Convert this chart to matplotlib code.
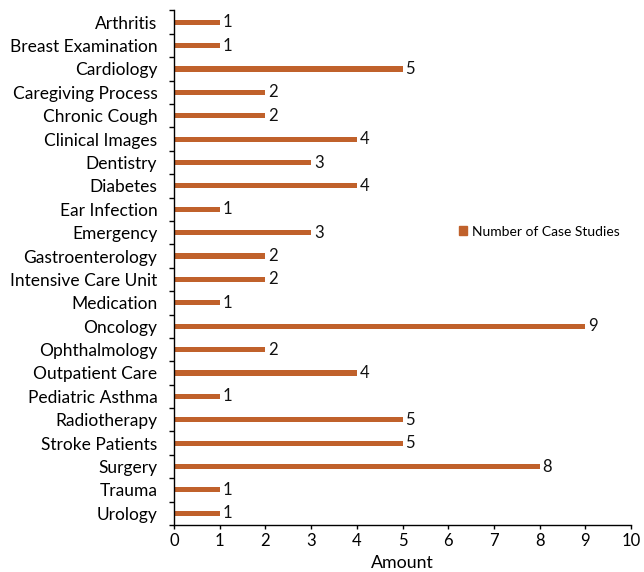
import matplotlib
matplotlib.use("Agg")
import matplotlib.pyplot as plt
from matplotlib.patches import Patch
import numpy as np

categories = ["Arthritis", "Breast Examination", "Cardiology", "Caregiving Process",
              "Chronic Cough", "Clinical Images", "Dentistry", "Diabetes", "Ear Infection",
              "Emergency", "Gastroenterology", "Intensive Care Unit", "Medication", "Oncology",
              "Ophthalmology", "Outpatient Care", "Pediatric Asthma", "Radiotherapy",
              "Stroke Patients", "Surgery", "Trauma", "Urology"]
values = [1, 1, 5, 2, 2, 4, 3, 4, 1, 3, 2, 2, 1, 9, 2, 4, 1, 5, 5, 8, 1, 1]
series_name = "Number of Case Studies"
xlabel = "Amount"

plt.rcParams['font.family'] = ['Lato', 'DejaVu Sans']
color = "#C0612B"

fig = plt.figure(figsize=(6.44, 5.72), dpi=100)
ax = fig.add_axes([174/644, 1-525/572, (631-174)/644, (525-10.5)/572])

n = len(categories)
y = np.arange(n)
ax.barh(y, values, height=0.22, color=color)
for yi, v in zip(y, values):
    ax.text(v + 0.06, yi, str(v), va='center', ha='left', fontsize=12, color='#111111')

ax.set_ylim(n - 0.5, -0.5)
ax.set_xlim(0, 10)
ax.set_xticks(range(0, 11))
ax.tick_params(axis='x', labelsize=12, length=3, width=1, colors='black', pad=3)
ax.set_yticks(y)
ax.set_yticklabels(categories, fontsize=12.5)
ax.tick_params(axis='y', which='major', length=0, pad=12)
ax.set_yticks(np.arange(-0.5, n, 1), minor=True)
ax.tick_params(axis='y', which='minor', length=3.5, width=1)
for s in ['top', 'right']:
    ax.spines[s].set_visible(False)
ax.spines['left'].set_linewidth(1)
ax.spines['bottom'].set_linewidth(1)
ax.set_xlabel(xlabel, fontsize=12.8, labelpad=4)

ax.legend(handles=[Patch(color=color, label=series_name)], loc='center left',
          bbox_to_anchor=(272/457, 0.57), frameon=False, fontsize=10,
          handlelength=0.6, handleheight=0.6, handletextpad=0.4)

fig.savefig("out.png", dpi=100)
